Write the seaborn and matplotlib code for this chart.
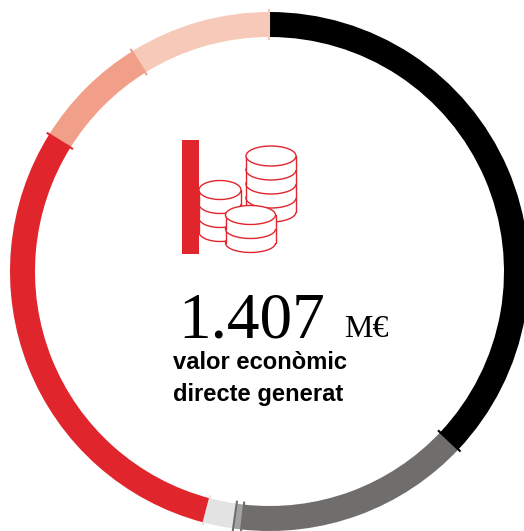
import numpy as np
import matplotlib
matplotlib.use("Agg")
import matplotlib.pyplot as plt
from matplotlib.patches import Ellipse, Rectangle
import seaborn as sns

# Valors llegits del gràfic (M€), en sentit horari des de dalt
valors = [521, 207, 7, 26, 419, 102, 125]
colors_anell = ["#000000", "#6f6e6c", "#a3a3a1", "#e3e3e3", "#e0262c", "#f29f8a", "#f7c9b9"]
colors_marca = ["#000000", "#6f6e6c", "#6f6e6c", "#e3e3e3", "#e0262c", "#f29f8a", "#f7c9b9"]

total_text = "1.407"
unitat_text = "M€"
etiqueta = ["valor econòmic", "directe generat"]

VERMELL = "#e0262c"
CENTRE = (269.5, 271.5)
RADI = 259.5
GRUIX = 25


def pila_monedes(ax, cx, y_dalt, amplada, alcada, capes, z, pas=14):
    """Dibuixa una pila de monedes, de baix a dalt"""
    for i in range(capes, 0, -1):
        y = y_dalt + i * pas
        ax.add_patch(Ellipse((cx, y), amplada, alcada, fc="white", ec=VERMELL, lw=1.0, zorder=z))
        ax.add_patch(Rectangle((cx - amplada / 2, y - pas), amplada, pas, fc="white", ec="none", zorder=z))
        ax.plot([cx - amplada / 2] * 2, [y - pas, y], color=VERMELL, lw=1.0, zorder=z)
        ax.plot([cx + amplada / 2] * 2, [y - pas, y], color=VERMELL, lw=1.0, zorder=z)
        z += 0.01
    ax.add_patch(Ellipse((cx, y_dalt), amplada, alcada, fc="white", ec=VERMELL, lw=1.0, zorder=z))


sns.set_theme(style="white")
plt.rcParams["font.family"] = ["Liberation Sans", "DejaVu Sans"]

fig = plt.figure(figsize=(5.24, 5.31), dpi=100)
ax = fig.add_axes([0, 0, 1, 1])

# Anell: amb l'eix y invertit, el sentit antihorari de les dades es veu horari
ax.pie(valors, colors=sns.color_palette(colors_anell), center=CENTRE, radius=RADI,
       startangle=-90, counterclock=True, frame=True,
       wedgeprops={"width": GRUIX, "linewidth": 0})

ax.set_xlim(0, 524)
ax.set_ylim(531, 0)
ax.set_aspect("equal")
ax.axis("off")

# Marques al final de cada tram
angles = np.cumsum(valors) / np.sum(valors) * 2 * np.pi
for angle, color in zip(angles, colors_marca):
    r = np.array([RADI - GRUIX - 3, RADI + 3])
    ax.plot(CENTRE[0] + r * np.sin(angle), CENTRE[1] - r * np.cos(angle),
            color=color, lw=1.5, solid_capstyle="butt", zorder=4)

# Icona de monedes
pila_monedes(ax, 271, 156, 50, 20, 4, 5)
pila_monedes(ax, 220, 190, 42, 19, 3, 6)
pila_monedes(ax, 250.5, 215, 50, 19, 2, 7)
ax.add_patch(Rectangle((182, 140), 17, 114, fc=VERMELL, ec="none", zorder=8))

# Textos
ax.text(178, 337, total_text, family="Liberation Serif", fontsize=47, color="#000000", va="baseline")
ax.text(344, 337, unitat_text, family="Liberation Serif", fontsize=23, color="#000000", va="baseline")
ax.text(173, 369, etiqueta[0], fontsize=17.1, fontweight="bold", color="#000000", va="baseline")
ax.text(173, 401, etiqueta[1], fontsize=17.1, fontweight="bold", color="#000000", va="baseline")

fig.savefig("out.png", dpi=100)
